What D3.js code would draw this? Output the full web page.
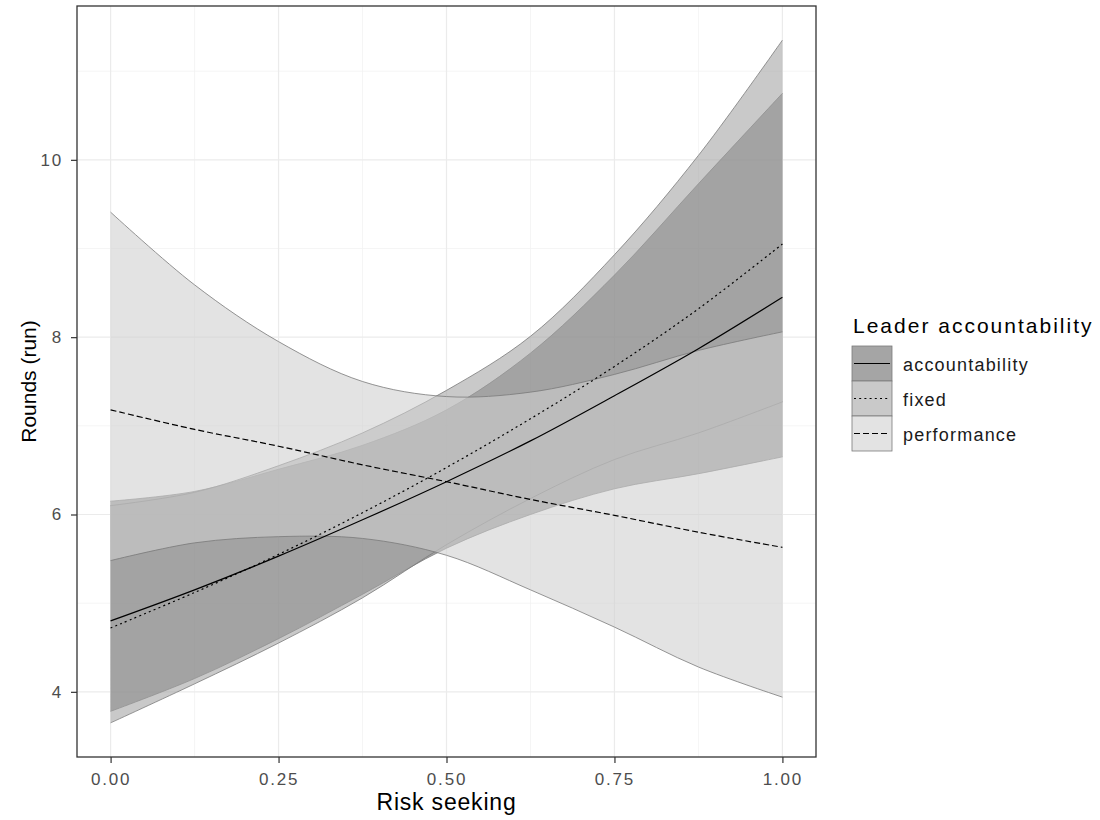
<!DOCTYPE html>
<html>
<head>
<meta charset="utf-8">
<script src="https://cdn.jsdelivr.net/npm/d3@7"></script>
<style>
  body { margin: 0; background: #fff; }
  text { font-family: "Liberation Sans", Arial, sans-serif; }
</style>
</head>
<body>
<div id="chart"></div>
<script>
// values
var riskSeeking = [0, 0.125, 0.25, 0.375, 0.5, 0.625, 0.75, 0.875, 1];

var accFit = [4.80, 5.15, 5.53, 5.94, 6.37, 6.83, 7.34, 7.87, 8.45];
var accLo  = [3.78, 4.15, 4.60, 5.10, 5.62, 6.00, 6.29, 6.46, 6.65];
var accHi  = [6.15, 6.26, 6.51, 6.78, 7.18, 7.82, 8.70, 9.73, 10.75];

var fixedFit = [4.72, 5.12, 5.55, 6.02, 6.53, 7.08, 7.67, 8.32, 9.05];
var fixedLo  = [3.65, 4.09, 4.55, 5.06, 5.66, 6.18, 6.62, 6.92, 7.27];
var fixedHi  = [6.10, 6.25, 6.55, 6.92, 7.40, 8.01, 8.93, 10.05, 11.35];

var perfFit = [7.18, 6.96, 6.77, 6.56, 6.37, 6.17, 5.99, 5.80, 5.63];
var perfLo  = [5.48, 5.68, 5.75, 5.73, 5.54, 5.15, 4.73, 4.28, 3.94];
var perfHi  = [9.41, 8.59, 7.95, 7.50, 7.33, 7.38, 7.58, 7.85, 8.06];

var groups = ["accountability", "fixed", "performance"];
var xTicks = [0, 0.25, 0.5, 0.75, 1];
var xMinor = [0.125, 0.375, 0.625, 0.875];
var yTicks = [4, 6, 8, 10];
var yMinor = [5, 7, 9, 11];

function bodyLoaded() {
    var W = 1100, H = 820;
    var panel = {left: 77, right: 816, top: 6, bottom: 757};

    var svg = d3.select("#chart")
        .append("svg")
        .attr("width", W)
        .attr("height", H);

    var x = d3.scaleLinear().domain([-0.05, 1.05]).range([panel.left, panel.right]);
    var y = d3.scaleLinear().domain([3.265, 11.735]).range([panel.bottom, panel.top]);

    // grid
    var grid = svg.append("g");
    grid.selectAll(".vminor").data(xMinor).enter().append("line")
        .attr("x1", d => x(d)).attr("x2", d => x(d))
        .attr("y1", panel.top).attr("y2", panel.bottom)
        .attr("stroke", "#f2f2f2").attr("stroke-width", 0.8);
    grid.selectAll(".hminor").data(yMinor).enter().append("line")
        .attr("x1", panel.left).attr("x2", panel.right)
        .attr("y1", d => y(d)).attr("y2", d => y(d))
        .attr("stroke", "#f2f2f2").attr("stroke-width", 0.8);
    grid.selectAll(".vmajor").data(xTicks).enter().append("line")
        .attr("x1", d => x(d)).attr("x2", d => x(d))
        .attr("y1", panel.top).attr("y2", panel.bottom)
        .attr("stroke", "#ebebeb").attr("stroke-width", 1.2);
    grid.selectAll(".hmajor").data(yTicks).enter().append("line")
        .attr("x1", panel.left).attr("x2", panel.right)
        .attr("y1", d => y(d)).attr("y2", d => y(d))
        .attr("stroke", "#ebebeb").attr("stroke-width", 1.2);

    var series = [
        {name: "accountability", fit: accFit, lo: accLo, hi: accHi, fill: "#646464", dash: null},
        {name: "fixed", fit: fixedFit, lo: fixedLo, hi: fixedHi, fill: "#a2a2a2", dash: "2,3.2"},
        {name: "performance", fit: perfFit, lo: perfLo, hi: perfHi, fill: "#cfcfcf", dash: "6,3"}
    ];
    var alpha = 0.58;
    var curve = d3.curveCatmullRom.alpha(0.5);

    var area = d3.area()
        .x(d => x(d.x)).y0(d => y(d.lo)).y1(d => y(d.hi))
        .curve(curve);
    var line = d3.line()
        .x(d => x(d.x)).y(d => y(d.v))
        .curve(curve);

    var ribbons = svg.append("g");
    series.forEach(s => {
        var pts = riskSeeking.map((v, i) => ({x: v, lo: s.lo[i], hi: s.hi[i]}));
        ribbons.append("path")
            .datum(pts)
            .attr("d", area)
            .attr("fill", s.fill)
            .attr("fill-opacity", alpha);
        ["lo", "hi"].forEach(k => {
            ribbons.append("path")
                .datum(riskSeeking.map((v, i) => ({x: v, v: s[k][i]})))
                .attr("d", line)
                .attr("fill", "none")
                .attr("stroke", "#7a7a7a")
                .attr("stroke-width", 0.8);
        });
    });

    var lines = svg.append("g");
    series.forEach(s => {
        lines.append("path")
            .datum(riskSeeking.map((v, i) => ({x: v, v: s.fit[i]})))
            .attr("d", line)
            .attr("fill", "none")
            .attr("stroke", "#000")
            .attr("stroke-width", 1.2)
            .attr("stroke-dasharray", s.dash);
    });

    // panel border
    svg.append("rect")
        .attr("x", panel.left).attr("y", panel.top)
        .attr("width", panel.right - panel.left)
        .attr("height", panel.bottom - panel.top)
        .attr("fill", "none").attr("stroke", "#333").attr("stroke-width", 1.3);

    // axes
    var xAxis = svg.append("g")
        .attr("transform", `translate(0, ${panel.bottom})`)
        .call(d3.axisBottom(x).tickValues(xTicks).tickFormat(d3.format(".2f")).tickSize(6).tickPadding(10));
    var yAxis = svg.append("g")
        .attr("transform", `translate(${panel.left}, 0)`)
        .call(d3.axisLeft(y).tickValues(yTicks).tickSize(6).tickPadding(8));
    [xAxis, yAxis].forEach(a => {
        a.select(".domain").remove();
        a.selectAll(".tick line").attr("stroke", "#333").attr("stroke-width", 1.2);
        a.selectAll(".tick text")
            .attr("fill", "#4d4d4d")
            .style("font-size", "17px")
            .style("letter-spacing", "1.8px")
            .style("font-family", '"Liberation Sans", Arial, sans-serif');
    });

    svg.append("text")
        .attr("x", (panel.left + panel.right) / 2)
        .attr("y", 810)
        .attr("text-anchor", "middle")
        .style("font-size", "23px")
        .style("letter-spacing", "0.8px")
        .text("Risk seeking");

    svg.append("text")
        .attr("transform", `translate(36, ${(panel.top + panel.bottom) / 2}) rotate(-90)`)
        .attr("text-anchor", "middle")
        .style("font-size", "21px")
        .text("Rounds (run)");

    // legend
    var legend = svg.append("g").attr("transform", "translate(852, 346)");
    legend.append("text")
        .attr("x", 1).attr("y", -13)
        .style("font-size", "21px")
        .style("letter-spacing", "2px")
        .text("Leader accountability");
    var keyH = 35, keyW = 40;
    series.forEach((s, i) => {
        var g = legend.append("g").attr("transform", `translate(0, ${i * keyH})`);
        g.append("rect")
            .attr("width", keyW).attr("height", keyH)
            .attr("fill", "#fff");
        g.append("rect")
            .attr("width", keyW).attr("height", keyH)
            .attr("fill", s.fill).attr("fill-opacity", alpha)
            .attr("stroke", "#7a7a7a").attr("stroke-width", 0.8);
        g.append("line")
            .attr("x1", 2).attr("x2", keyW - 2)
            .attr("y1", keyH / 2).attr("y2", keyH / 2)
            .attr("stroke", "#000").attr("stroke-width", 1.2)
            .attr("stroke-dasharray", s.dash);
        g.append("text")
            .attr("x", 51).attr("y", keyH / 2)
            .attr("dy", "0.4em")
            .style("font-size", "18px")
            .style("letter-spacing", "1.2px")
            .attr("fill", "#1a1a1a")
            .text(s.name);
    });
}

bodyLoaded();
</script>
</body>
</html>
